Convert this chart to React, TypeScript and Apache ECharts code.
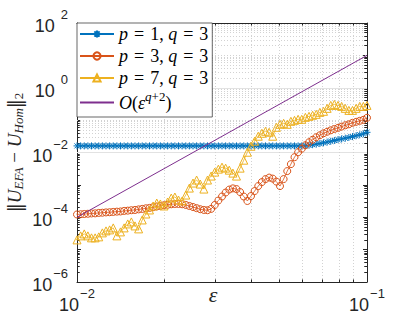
import React, { useEffect, useRef } from 'react';
import * as echarts from 'echarts';

// ---- data (log-spaced epsilon) ----
const epsilon = [
  0.010000, 0.010292, 0.010593, 0.010902, 0.011220, 0.011548, 0.011885, 0.012232, 0.012589, 0.012957,
  0.013335, 0.013725, 0.014125, 0.014538, 0.014962, 0.015399, 0.015849, 0.016312, 0.016788, 0.017278,
  0.017783, 0.018302, 0.018836, 0.019387, 0.019953, 0.020535, 0.021135, 0.021752, 0.022387, 0.023041,
  0.023714, 0.024406, 0.025119, 0.025852, 0.026607, 0.027384, 0.028184, 0.029007, 0.029854, 0.030726,
  0.031623, 0.032546, 0.033497, 0.034475, 0.035481, 0.036517, 0.037584, 0.038681, 0.039811, 0.040973,
  0.042170, 0.043401, 0.044668, 0.045973, 0.047315, 0.048697, 0.050119, 0.051582, 0.053088, 0.054639,
  0.056234, 0.057876, 0.059566, 0.061306, 0.063096, 0.064938, 0.066834, 0.068786, 0.070795, 0.072862,
  0.074989, 0.077179, 0.079433, 0.081752, 0.084140, 0.086596, 0.089125, 0.091728, 0.094406, 0.097163,
  0.100000,
];

const errP1Q3 = [
  0.0160, 0.0160, 0.0160, 0.0160, 0.0160, 0.0160, 0.0160, 0.0160, 0.0160, 0.0160,
  0.0160, 0.0160, 0.0160, 0.0160, 0.0160, 0.0160, 0.0160, 0.0160, 0.0160, 0.0160,
  0.0160, 0.0160, 0.0160, 0.0160, 0.0160, 0.0160, 0.0160, 0.0160, 0.0160, 0.0160,
  0.0160, 0.0160, 0.0160, 0.0160, 0.0160, 0.0160, 0.0160, 0.0160, 0.0160, 0.0160,
  0.0160, 0.0160, 0.0160, 0.0160, 0.0160, 0.0160, 0.0160, 0.0160, 0.0160, 0.0160,
  0.0160, 0.0160, 0.0160, 0.0160, 0.0160, 0.0160, 0.0160, 0.0160, 0.0160, 0.0160,
  0.0160, 0.0160, 0.0160, 0.0163, 0.0168, 0.0174, 0.0181, 0.0189, 0.0199, 0.0210,
  0.0222, 0.0235, 0.0250, 0.0263, 0.0276, 0.0292, 0.0310, 0.0330, 0.0352, 0.0378,
  0.0420,
];

const errP3Q3 = [
  1.22e-4, 1.24e-4, 1.26e-4, 1.28e-4, 1.31e-4, 1.32e-4, 1.36e-4, 1.38e-4, 1.41e-4, 1.43e-4,
  1.46e-4, 1.49e-4, 1.51e-4, 1.57e-4, 1.60e-4, 1.65e-4, 1.68e-4, 1.75e-4, 1.81e-4, 1.89e-4,
  1.94e-4, 2.04e-4, 2.15e-4, 2.23e-4, 2.35e-4, 2.43e-4, 2.52e-4, 2.57e-4, 2.57e-4, 2.52e-4,
  2.40e-4, 2.23e-4, 2.07e-4, 1.91e-4, 1.77e-4, 1.68e-4, 1.65e-4, 1.81e-4, 2.40e-4, 3.29e-4,
  4.37e-4, 5.79e-4, 7.17e-4, 7.80e-4, 7.43e-4, 6.00e-4, 4.37e-4, 3.18e-4, 4.52e-4, 6.44e-4,
  9.18e-4, 1.22e-3, 1.51e-3, 1.68e-3, 1.56e-3, 1.26e-3, 9.18e-4, 1.51e-3, 2.66e-3, 4.37e-3,
  7.17e-3, 1.02e-2, 1.31e-2, 1.68e-2, 2.07e-2, 2.48e-2, 2.96e-2, 3.41e-2, 3.93e-2, 4.37e-2,
  4.85e-2, 5.31e-2, 5.79e-2, 6.31e-2, 6.92e-2, 7.43e-2, 8.26e-2, 8.87e-2, 9.52e-2, 1.02e-1,
  1.18e-1,
];

const errP7Q3 = [
  2.00e-5, 2.66e-5, 3.06e-5, 2.66e-5, 2.31e-5, 2.31e-5, 2.48e-5, 3.29e-5, 3.79e-5, 4.07e-5,
  4.69e-5, 2.66e-5, 3.53e-5, 4.69e-5, 6.22e-5, 7.17e-5, 5.40e-5, 4.37e-5, 8.26e-5, 1.26e-4,
  1.68e-4, 2.23e-4, 2.75e-4, 2.57e-4, 2.23e-4, 2.96e-4, 3.93e-4, 4.22e-4, 3.41e-4, 3.18e-4,
  4.85e-4, 7.97e-4, 1.14e-3, 1.41e-3, 1.06e-3, 7.43e-4, 1.41e-3, 1.87e-3, 2.48e-3, 3.06e-3,
  3.53e-3, 3.29e-3, 2.85e-3, 2.31e-3, 1.87e-3, 3.29e-3, 5.79e-3, 1.02e-2, 1.56e-2, 2.23e-2,
  3.18e-2, 3.93e-2, 4.52e-2, 4.22e-2, 3.18e-2, 6.00e-2, 7.43e-2, 7.98e-2, 7.43e-2, 9.18e-2,
  9.87e-2, 0.106, 0.106, 0.122, 0.131, 0.141, 0.151, 0.174, 0.187, 0.231,
  0.285, 0.306, 0.285, 0.266, 0.231, 0.200, 0.200, 0.231, 0.266, 0.266,
  0.285,
];

const refEps = [0.01, 0.1];
const refOrder = [1e-4, 10];

const seriesNames = ['p = 1, q = 3', 'p = 3, q = 3', 'p = 7, q = 3', 'O(ε^(q+2))'];
const xLabelExponents = [-2, -1];
const yLabelExponents = [-6, -4, -2, 0, 2];
const minorMultipliers = [2, 3, 4, 5, 6, 7, 8, 9];
const yDecades = [-6, -5, -4, -3, -2, -1, 0, 1];

const AX = '#262626';
const COLORS = ['#0072BD', '#D95319', '#EDB120', '#7E2F8E'];

const ASTERISK = 'path://M0,-5L0,5M-5,0L5,0M-3.6,-3.6L3.6,3.6M-3.6,3.6L3.6,-3.6';

function legendText(name: string): string {
  const m = name.match(/p = (\d+), q = (\d+)/);
  if (m) return `{i|p}{eq|=}{r|${m[1]}, }{i|q}{eq|=}{r|${m[2]}}`;
  return '{i|O}{r|(}{i|ε}{si|q}{sr|+2}{r|)}';
}

function makePowLabel(allowed: number[]) {
  return (v: number): string => {
    const e = Math.round(Math.log10(v));
    if (!allowed.includes(e)) return '';
    return e < 0 ? `{b|10}{e|−${-e}}` : `{b|10}{ep|${e}}`;
  };
}

const labelRich = {
  b: { fontFamily: 'Liberation Sans', fontSize: 18, color: AX, lineHeight: 30, padding: [6, 0, 0, 0] },
  e: { fontFamily: 'Liberation Sans', fontSize: 13, color: AX, lineHeight: 30, padding: [0, 0, 17, 1] },
  ep: { fontFamily: 'Liberation Sans', fontSize: 13, color: AX, lineHeight: 30, padding: [0, 0, 17, 6] },
};

function buildGridMarks() {
  const items: any[] = [];
  const minorStyle = { color: '#d2d2d2', width: 1, type: [1, 2] };
  const majorStyle = { color: '#e2e2e2', width: 1, type: 'solid' };
  const yMinor: number[] = [];
  yDecades.forEach((d) => minorMultipliers.forEach((m) => yMinor.push(m * Math.pow(10, d))));
  const yOdd = yDecades.filter((d) => d % 2 !== 0).map((d) => Math.pow(10, d));
  const yMajor = yDecades.filter((d) => d % 2 === 0 && d !== -6).map((d) => Math.pow(10, d));
  const xMinor = minorMultipliers.map((m) => m * 0.01);
  yMinor.concat(yOdd).forEach((v) => items.push({ yAxis: v, lineStyle: minorStyle }));
  yMajor.forEach((v) => items.push({ yAxis: v, lineStyle: majorStyle }));
  xMinor.forEach((v) => items.push({ xAxis: v, lineStyle: minorStyle }));
  const tickStyle = { color: AX, width: 1, type: 'solid' };
  xMinor.forEach((v) => {
    items.push([{ coord: [v, 1e-6], lineStyle: tickStyle }, { coord: [v, 1.2e-6] }]);
    items.push([{ coord: [v, 1e2], lineStyle: tickStyle }, { coord: [v, 1e2 / 1.2] }]);
  });
  yMinor.forEach((v) => {
    items.push([{ coord: [0.01, v], lineStyle: tickStyle }, { coord: [0.01 * 1.022, v] }]);
    items.push([{ coord: [0.1, v], lineStyle: tickStyle }, { coord: [0.1 / 1.022, v] }]);
  });
  return items;
}

const axisCommon = {
  axisLine: { show: true, onZero: false, lineStyle: { color: AX, width: 1 } },
  axisTick: { show: true, inside: true, length: 4, lineStyle: { color: AX, width: 1 } },
  splitLine: { show: false },
  minorTick: { show: false },
};

const legendData = seriesNames.map((n, i) =>
  i === 3 ? { name: n, itemStyle: { color: 'rgba(0,0,0,0)', borderColor: 'rgba(0,0,0,0)', borderWidth: 0 } } : { name: n }
);

const option: any = {
  animation: false,
  backgroundColor: '#fff',
  grid: { left: 77, top: 23, width: 290, height: 259, containLabel: false, outerBoundsMode: 'none' },
  xAxis: [
    {
      type: 'log', logBase: 10, min: 0.01, max: 0.1, splitNumber: 1,
      ...axisCommon,
      axisLabel: { margin: 5, formatter: makePowLabel(xLabelExponents), rich: labelRich },
      name: 'ε', nameLocation: 'middle', nameGap: 1, nameMoveOverlap: false,
      nameTextStyle: {
        fontFamily: 'Liberation Serif', fontStyle: 'italic', fontSize: 22, lineHeight: 22,
        color: AX, padding: [0, 18, 0, 0],
      },
    },
    {
      type: 'log', logBase: 10, min: 0.01, max: 0.1, splitNumber: 1, position: 'top',
      ...axisCommon, axisLabel: { show: false },
    },
  ],
  yAxis: [
    {
      type: 'log', logBase: 10, min: 1e-6, max: 1e2, splitNumber: 8,
      ...axisCommon,
      axisLabel: { margin: 9, formatter: makePowLabel(yLabelExponents), rich: labelRich },
      name: '{n|‖}{i|U}{s|EFA}{r| − }{i|U}{s|Hom}{n|‖}{sn|2}',
      nameLocation: 'middle', nameRotate: 90, nameGap: 52, nameMoveOverlap: false,
      nameTextStyle: {
        color: AX, lineHeight: 22,
        rich: {
          n: { fontFamily: 'DejaVu Serif', fontSize: 18, color: AX, lineHeight: 22 },
          i: { fontFamily: 'Liberation Serif', fontStyle: 'italic', fontSize: 19, color: AX, lineHeight: 22 },
          r: { fontFamily: 'Liberation Serif', fontSize: 19, color: AX, lineHeight: 22 },
          s: { fontFamily: 'Liberation Serif', fontStyle: 'italic', fontSize: 13, color: AX, lineHeight: 22, padding: [8, 0, 0, 0] },
          sn: { fontFamily: 'Liberation Serif', fontSize: 13, color: AX, lineHeight: 22, padding: [8, 0, 0, 0] },
        },
      },
    },
    {
      type: 'log', logBase: 10, min: 1e-6, max: 1e2, splitNumber: 8, position: 'right',
      ...axisCommon, axisLabel: { show: false },
    },
  ],
  legend: {
    data: legendData,
    orient: 'vertical',
    left: 77, top: 23,
    padding: [1, 4, 2, 2],
    itemWidth: 34, itemHeight: 9, itemGap: 2,
    backgroundColor: '#fff',
    borderColor: AX, borderWidth: 0.7, borderRadius: 0,
    selectedMode: false,
    formatter: legendText,
    textStyle: {
      color: '#000', fontSize: 18, lineHeight: 20, fontFamily: 'Liberation Serif',
      rich: {
        i: { fontFamily: 'Liberation Serif', fontStyle: 'italic', fontSize: 18, color: '#000', lineHeight: 20 },
        r: { fontFamily: 'Liberation Serif', fontSize: 18, color: '#000', lineHeight: 20 },
        eq: { fontFamily: 'Liberation Serif', fontSize: 18, color: '#000', lineHeight: 20, padding: [0, 6, 0, 6] },
        si: { fontFamily: 'Liberation Serif', fontStyle: 'italic', fontSize: 13, color: '#000', lineHeight: 20, padding: [0, 0, 12, 0] },
        sr: { fontFamily: 'Liberation Serif', fontSize: 13, color: '#000', lineHeight: 20, padding: [0, 0, 12, 0] },
      },
    },
  },
  series: [
    {
      type: 'line', name: '__grid', data: [], silent: true, z: 1,
      markLine: {
        silent: true, z: 1, symbol: ['none', 'none'], animation: false,
        label: { show: false }, emphasis: { disabled: true },
        data: buildGridMarks(),
      },
    },
    {
      type: 'line', name: seriesNames[0], z: 2,
      data: epsilon.map((x, i) => [x, errP1Q3[i]]),
      symbol: ASTERISK, symbolSize: 7,
      lineStyle: { color: COLORS[0], width: 0.8 },
      itemStyle: { color: COLORS[0], borderColor: COLORS[0], borderWidth: 1 },
    },
    {
      type: 'line', name: seriesNames[1], z: 3,
      data: epsilon.map((x, i) => [x, errP3Q3[i]]),
      symbol: 'circle', symbolSize: 7,
      lineStyle: { color: COLORS[1], width: 0.8 },
      itemStyle: { color: 'rgba(255,255,255,0)', borderColor: COLORS[1], borderWidth: 1 },
    },
    {
      type: 'line', name: seriesNames[2], z: 4,
      data: epsilon.map((x, i) => [x, errP7Q3[i]]),
      symbol: 'triangle', symbolSize: 8,
      lineStyle: { color: COLORS[2], width: 0.8 },
      itemStyle: { color: 'rgba(255,255,255,0)', borderColor: COLORS[2], borderWidth: 1 },
    },
    {
      type: 'line', name: seriesNames[3], z: 5,
      data: refEps.map((x, i) => [x, refOrder[i]]),
      symbol: 'none',
      lineStyle: { color: COLORS[3], width: 1 },
      itemStyle: { color: COLORS[3] },
    },
  ],
};

export default function App() {
  const ref = useRef<HTMLDivElement>(null);
  useEffect(() => {
    const chart = echarts.init(ref.current!, null, { renderer: 'svg' });
    chart.setOption(option);
    return () => chart.dispose();
  }, []);
  return (
    <div
      ref={ref}
      style={{ position: 'absolute', left: 0, top: 0, width: 407, height: 317, background: '#fff' }}
    />
  );
}
